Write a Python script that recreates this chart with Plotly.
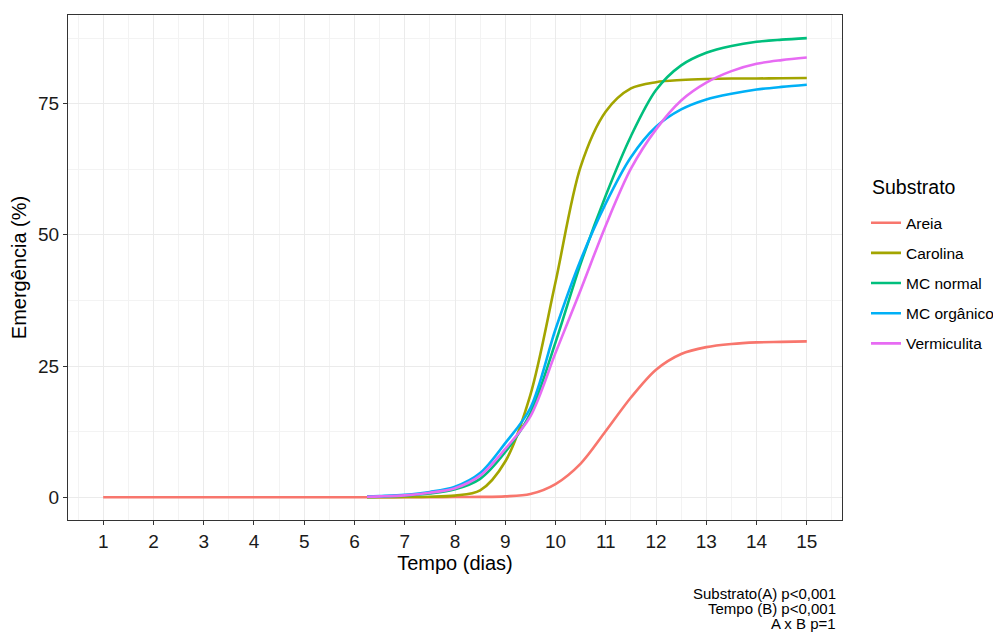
import plotly.graph_objects as go

# Time axis (days)
tempo_areia = [1, 1.5, 2, 2.5, 3, 3.5, 4, 4.5, 5, 5.5, 6, 6.5, 7, 7.5, 8, 8.5,
               9, 9.5, 10, 10.5, 11, 11.5, 12, 12.5, 13, 13.5, 14, 14.5, 15]
tempo = [6.25, 6.5, 7, 7.5, 8, 8.5, 9, 9.5, 10, 10.5, 11, 11.5, 12, 12.5, 13, 13.5, 14, 14.5, 15]

areia = [0, 0, 0, 0, 0, 0, 0, 0, 0, 0, 0, 0, 0, 0, 0.02, 0.05,
         0.15, 0.6, 2.5, 6.4, 12.6, 19.0, 24.3, 27.3, 28.6, 29.2, 29.5, 29.6, 29.7]
carolina = [0.0, 0.0, 0.02, 0.08, 0.3, 1.3, 6.8, 19.5, 41.0, 63.0, 73.5, 77.9, 79.1, 79.5, 79.7, 79.8, 79.8, 79.85, 79.9]
mc_normal = [0.05, 0.1, 0.3, 0.7, 1.5, 3.5, 8.6, 16.0, 29.5, 44.5, 57.5, 68.8, 77.6, 82.3, 84.7, 86.0, 86.8, 87.2, 87.5]
mc_organico = [0.1, 0.2, 0.45, 1.0, 2.0, 4.6, 10.3, 17.0, 32.0, 45.2, 56.0, 64.8, 70.6, 73.9, 75.8, 76.9, 77.7, 78.2, 78.6]
vermiculita = [0.08, 0.15, 0.35, 0.85, 1.7, 4.1, 9.2, 15.4, 27.5, 39.5, 51.8, 62.6, 70.1, 75.6, 79.0, 81.2, 82.6, 83.3, 83.8]

series = [
    ("Areia", tempo_areia, areia, "#F8766D"),
    ("Carolina", tempo, carolina, "#A3A500"),
    ("MC normal", tempo, mc_normal, "#00BF7D"),
    ("MC orgânico", tempo, mc_organico, "#00B0F6"),
    ("Vermiculita", tempo, vermiculita, "#E76BF3"),
]

x_ticks = list(range(1, 16))
y_ticks = [0, 25, 50, 75]
caption_lines = ["Substrato(A) p<0,001", "Tempo (B) p<0,001", "A x B p=1"]

fig = go.Figure()
for name, xs, ys, col in series:
    fig.add_trace(go.Scatter(
        x=xs, y=ys, mode="lines", name=name, legendgroup=name,
        line=dict(color=col, width=2.6, shape="spline", smoothing=0.9),
    ))

font_family = "Liberation Sans, Arial, sans-serif"

# page body has an 8px margin: size the figure so the panel lands where the reference has it
fig.update_layout(
    width=993, height=625,
    paper_bgcolor="white", plot_bgcolor="white",
    margin=dict(l=60, r=159, t=7, b=113, autoexpand=False),
    font=dict(family=font_family, color="black"),
    showlegend=True,
    legend=dict(
        font=dict(size=15.5, color="black"),
        x=1.031, xanchor="left", y=0.469, yanchor="middle",
        traceorder="grouped", tracegroupgap=7,
        itemwidth=30, bgcolor="rgba(0,0,0,0)",
    ),
    xaxis=dict(
        range=[0.3, 15.7], tickmode="array", tickvals=x_ticks,
        ticktext=[str(v) for v in x_ticks],
        showgrid=True, gridcolor="#EBEBEB", gridwidth=1,
        minor=dict(dtick=0.5, tick0=0.5, showgrid=True, gridcolor="#F3F3F3", gridwidth=0.6),
        ticks="outside", ticklen=4, tickcolor="#333333",
        tickfont=dict(size=19, color="#1a1a1a"),
        showline=True, linecolor="#333333", linewidth=1, mirror=True,
        zeroline=False,
        title=dict(text="Tempo (dias)", font=dict(size=20, color="black"), standoff=5),
    ),
    yaxis=dict(
        range=[-4.35, 91.9], tickmode="array", tickvals=y_ticks,
        ticktext=[str(v) for v in y_ticks],
        showgrid=True, gridcolor="#EBEBEB", gridwidth=1,
        minor=dict(dtick=12.5, tick0=12.5, showgrid=True, gridcolor="#F3F3F3", gridwidth=0.6),
        ticks="outside", ticklen=4, tickcolor="#333333",
        tickfont=dict(size=19, color="#1a1a1a"),
        showline=True, linecolor="#333333", linewidth=1, mirror=True,
        zeroline=False,
        title=dict(text="Emergência (%)", font=dict(size=20, color="black"), standoff=8),
    ),
)

fig.add_annotation(
    text="Substrato",
    xref="paper", yref="paper", x=1.036, y=0.659,
    xanchor="left", yanchor="middle", showarrow=False,
    font=dict(size=19.5, color="black", family=font_family),
)

for i, line in enumerate(caption_lines):
    fig.add_annotation(
        text=line,
        xref="paper", yref="paper", x=0.995, y=-0.1446 - 0.0297 * i,
        xanchor="right", yanchor="middle", align="right", showarrow=False,
        font=dict(size=15, color="black", family=font_family),
    )

fig.write_html("out.html")
